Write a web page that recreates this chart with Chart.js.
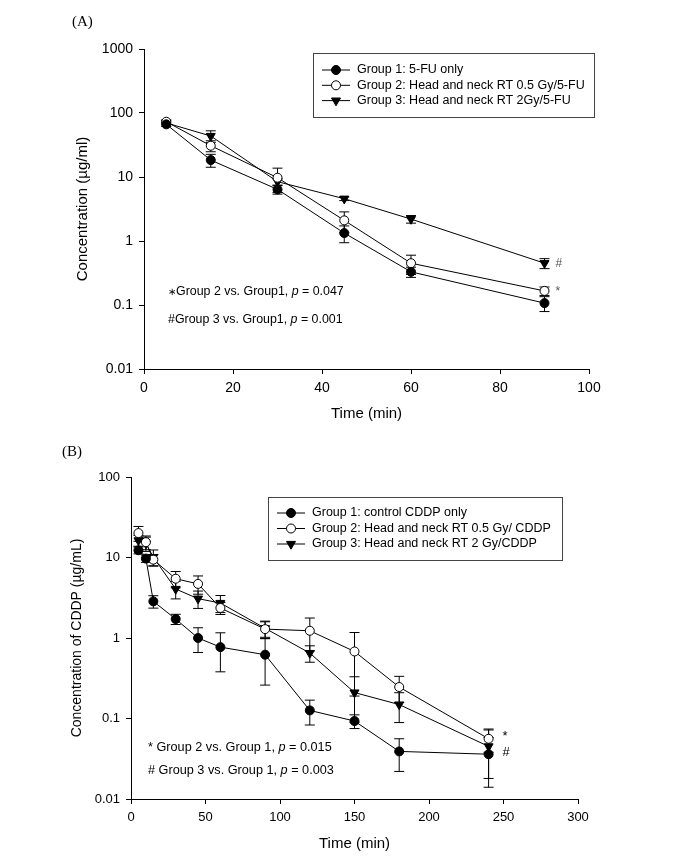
<!DOCTYPE html>
<html>
<head>
<meta charset="utf-8">
<script src="https://cdn.jsdelivr.net/npm/chart.js@4.4.0/dist/chart.umd.min.js"></script>
<style>
  html, body { margin: 0; padding: 0; background: #fff; }
  #wrap { position: relative; width: 685px; height: 856px; }
  .panel { position: absolute; left: 0; width: 685px; height: 428px; }
</style>
</head>
<body>
<div id="wrap">
  <div class="panel" style="top:0"><canvas id="chartA"></canvas></div>
  <div class="panel" style="top:428px"><canvas id="chartB"></canvas></div>
</div>
<script>
// panel A: 5-FU
const timeA = [5, 15, 30, 45, 60, 90];
const fuOnly = [66.5, 18.4, 6.4, 1.33, 0.33, 0.107];
const fuOnlySd = [5, 4.2, 1.0, 0.39, 0.06, 0.028];
const fuRt05 = [73, 30.8, 9.75, 2.1, 0.45, 0.166];
const fuRt05Sd = [5, 6, 4, 0.75, 0.15, 0.025];
const fuRt2 = [70, 43.7, 8.45, 4.58, 2.2, 0.45];
const fuRt2Sd = [5, 9, 1.0, 0.3, 0.3, 0.08];
const labelsA = ['Group 1: 5-FU only', 'Group 2: Head and neck RT 0.5 Gy/5-FU', 'Group 3: Head and neck RT 2Gy/5-FU'];
const yTicksA = [0.01, 0.1, 1, 10, 100, 1000];

// panel B: CDDP
const timeB = [5, 10, 15, 30, 45, 60, 90, 120, 150, 180, 240];
const cddpOnly = [12.3, 9.7, 2.85, 1.72, 1.0, 0.77, 0.62, 0.126, 0.093, 0.039, 0.036];
const cddpOnlySd = [1.2, 1.0, 0.5, 0.25, 0.34, 0.39, 0.36, 0.043, 0.018, 0.017, 0.022];
const cddpRt05 = [20.1, 15.5, 9.4, 5.45, 4.7, 2.36, 1.29, 1.23, 0.68, 0.246, 0.056];
const cddpRt05Sd = [4.2, 3.0, 1.5, 1.25, 1.2, 0.4, 0.3, 0.54, 0.49, 0.088, 0.018];
const cddpRt2 = [16.3, 14.9, 10.1, 4.06, 3.08, 2.72, 1.32, 0.65, 0.21, 0.149, 0.045];
const cddpRt2Sd = [2.5, 3.0, 2.3, 1.0, 0.75, 0.65, 0.3, 0.15, 0.12, 0.06, 0.027];
const labelsB = ['Group 1: control CDDP only', 'Group 2: Head and neck RT 0.5 Gy/ CDDP', 'Group 3: Head and neck RT 2 Gy/CDDP'];
const yTicksB = [0.01, 0.1, 1, 10, 100];

const SANS = "'Liberation Sans', Arial, sans-serif";
const SERIF = "'Liberation Serif', 'Times New Roman', serif";

const styles = [
  { pointStyle: 'circle', pointRadius: 4.5, pointBackgroundColor: '#000', pointRotation: 0 },
  { pointStyle: 'circle', pointRadius: 4.5, pointBackgroundColor: '#fff', pointRotation: 0 },
  { pointStyle: 'triangle', pointRadius: 5.2, pointBackgroundColor: '#000', pointRotation: 180 }
];

function makeSets(xs, series, sds, labels) {
  return series.map((vals, i) => Object.assign({
    label: labels[i],
    data: vals.map((v, j) => ({ x: xs[j], y: v })),
    sd: sds[i],
    borderColor: '#000',
    borderWidth: 1,
    pointBorderColor: '#000',
    pointBorderWidth: 1,
    fill: false,
    tension: 0
  }, styles[i]));
}

function marker(ctx, st, x, y) {
  ctx.save();
  ctx.fillStyle = st.pointBackgroundColor;
  ctx.strokeStyle = '#000';
  ctx.lineWidth = 1;
  ctx.beginPath();
  if (st.pointStyle === 'triangle') {
    const r = st.pointRadius;
    let a = Math.PI;
    for (let k = 0; k < 3; k++) {
      const px = x + Math.sin(a) * r, py = y - Math.cos(a) * r;
      if (k === 0) ctx.moveTo(px, py); else ctx.lineTo(px, py);
      a += 2 * Math.PI / 3;
    }
    ctx.closePath();
  } else {
    ctx.arc(x, y, st.pointRadius, 0, Math.PI * 2);
  }
  ctx.fill();
  ctx.stroke();
  ctx.restore();
}

function richText(ctx, parts, x, y, size) {
  let cx = x;
  parts.forEach(([t, it, sz]) => {
    ctx.font = (it ? 'italic ' : '') + (sz || size) + 'px ' + SANS;
    ctx.fillText(t, cx, y);
    cx += ctx.measureText(t).width;
  });
}

const errorBars = {
  id: 'errorBars',
  beforeDatasetsDraw(chart) {
    const ctx = chart.ctx, xs = chart.scales.x, ys = chart.scales.y;
    ctx.save();
    ctx.strokeStyle = '#000';
    ctx.lineWidth = 1;
    chart.data.datasets.forEach(ds => {
      ds.data.forEach((p, j) => {
        const sd = ds.sd[j];
        const x = xs.getPixelForValue(p.x);
        const hi = ys.getPixelForValue(p.y + sd);
        const lo = ys.getPixelForValue(Math.max(p.y - sd, ys.min));
        ctx.beginPath();
        ctx.moveTo(x, hi); ctx.lineTo(x, lo);
        ctx.moveTo(x - 5, hi); ctx.lineTo(x + 5, hi);
        ctx.moveTo(x - 5, lo); ctx.lineTo(x + 5, lo);
        ctx.stroke();
      });
    });
    ctx.restore();
  }
};

const panelText = {
  id: 'panelText',
  afterDraw(chart, args, o) {
    const ctx = chart.ctx, xs = chart.scales.x, ys = chart.scales.y;
    ctx.save();
    // panel label
    ctx.fillStyle = '#000';
    ctx.textBaseline = 'middle';
    ctx.font = '15px ' + SERIF;
    ctx.fillText(o.panel, o.panelX, o.panelY);
    // legend box
    const L = o.legend;
    ctx.fillStyle = '#fff';
    ctx.fillRect(L.x0, L.y0, L.x1 - L.x0, L.y1 - L.y0);
    ctx.strokeStyle = '#444';
    ctx.lineWidth = 1;
    ctx.strokeRect(L.x0 + 0.5, L.y0 + 0.5, L.x1 - L.x0, L.y1 - L.y0);
    chart.data.datasets.forEach((ds, i) => {
      const y = L.rowY + i * L.rowGap;
      ctx.strokeStyle = '#000';
      ctx.beginPath();
      ctx.moveTo(L.lineX0, y); ctx.lineTo(L.lineX1, y);
      ctx.stroke();
      marker(ctx, styles[i], (L.lineX0 + L.lineX1) / 2, y);
      ctx.fillStyle = '#000';
      ctx.font = L.size + 'px ' + SANS;
      ctx.textBaseline = 'middle';
      ctx.fillText(ds.label, L.textX, y);
    });
    // statistics notes
    ctx.fillStyle = '#000';
    o.notes.forEach(n => richText(ctx, n.parts, n.x, n.y, n.size));
    // significance marks at the last time point
    o.marks.forEach(m => {
      const ds = chart.data.datasets[m.ds];
      const p = ds.data[ds.data.length - 1];
      ctx.fillStyle = m.color;
      ctx.font = m.size + 'px ' + SANS;
      ctx.fillText(m.text, xs.getPixelForValue(p.x) + m.dx, ys.getPixelForValue(p.y) + m.dy);
    });
    ctx.restore();
  }
};

function makeChart(id, cfg) {
  return new Chart(document.getElementById(id), {
    type: 'line',
    data: { datasets: makeSets(cfg.xs, cfg.series, cfg.sds, cfg.labels) },
    plugins: [errorBars, panelText],
    options: {
      responsive: true,
      maintainAspectRatio: false,
      animation: false,
      events: [],
      layout: { padding: { top: 49, right: cfg.padRight, bottom: 0, left: 0 } },
      scales: {
        x: {
          type: 'linear',
          min: 0,
          max: cfg.xMax,
          afterFit: s => { s.height = cfg.xHeight; },
          border: { display: true, color: '#000', width: 1 },
          grid: { drawOnChartArea: false, drawTicks: true, tickLength: 5, color: '#000' },
          ticks: { stepSize: cfg.xStep, color: '#000', padding: cfg.xTickPad, font: { family: SANS, size: cfg.tickSize } },
          title: { display: true, text: 'Time (min)', color: '#000', padding: { top: 0, bottom: cfg.xTitlePad }, font: { family: SANS, size: 15 } }
        },
        y: {
          type: 'logarithmic',
          min: cfg.yTicks[0],
          max: cfg.yTicks[cfg.yTicks.length - 1],
          afterFit: s => { s.width = cfg.yWidth; },
          afterBuildTicks: s => { s.ticks = cfg.yTicks.map(v => ({ value: v })); },
          border: { display: true, color: '#000', width: 1 },
          grid: { drawOnChartArea: false, drawTicks: true, tickLength: 5, color: '#000' },
          ticks: { color: '#000', padding: 6, font: { family: SANS, size: cfg.tickSize }, callback: v => String(v) },
          title: { display: true, text: cfg.yTitle, color: '#000', padding: { top: cfg.yTitlePad, bottom: 0 }, font: { family: SANS, size: cfg.yTitleSize } }
        }
      },
      plugins: {
        legend: { display: false },
        tooltip: { enabled: false },
        panelText: cfg.text
      }
    }
  });
}

makeChart('chartA', {
  xs: timeA,
  series: [fuOnly, fuRt05, fuRt2],
  sds: [fuOnlySd, fuRt05Sd, fuRt2Sd],
  labels: labelsA,
  yTicks: yTicksA,
  xMax: 100, xStep: 20,
  padRight: 96, xHeight: 59, yWidth: 144,
  tickSize: 14, xTickPad: 5.6, xTitlePad: 5,
  yTitle: 'Concentration (\u00b5g/ml)', yTitleSize: 15, yTitlePad: 74,
  text: {
    panel: '(A)', panelX: 72, panelY: 22,
    legend: { x0: 313, y0: 53, x1: 594, y1: 117, rowY: 70, rowGap: 15.3, lineX0: 322, lineX1: 350, textX: 357, size: 12.5 },
    notes: [
      { x: 168, y: 292, size: 12.4, parts: [['\u2217', false, 10], ['Group 2 vs. Group1, ', false], ['p', true], [' = 0.047', false]] },
      { x: 168, y: 320, size: 12.4, parts: [['#Group 3 vs. Group1, ', false], ['p', true], [' = 0.001', false]] }
    ],
    marks: [
      { ds: 2, text: '#', dx: 11, dy: 0, color: '#555', size: 12 },
      { ds: 1, text: '*', dx: 11, dy: 1, color: '#555', size: 12 }
    ]
  }
});

makeChart('chartB', {
  xs: timeB,
  series: [cddpOnly, cddpRt05, cddpRt2],
  sds: [cddpOnlySd, cddpRt05Sd, cddpRt2Sd],
  labels: labelsB,
  yTicks: yTicksB,
  xMax: 300, xStep: 50,
  padRight: 107, xHeight: 57, yWidth: 131,
  tickSize: 13, xTickPad: 5.2, xTitlePad: 3,
  yTitle: 'Concentration of CDDP (\u00b5g/mL)', yTitleSize: 14, yTitlePad: 68.6,
  text: {
    panel: '(B)', panelX: 62, panelY: 24,
    legend: { x0: 268, y0: 69, x1: 562, y1: 132, rowY: 85, rowGap: 15.5, lineX0: 277, lineX1: 305, textX: 312, size: 12.5 },
    notes: [
      { x: 148, y: 319, size: 12.7, parts: [['* Group 2 vs. Group 1, ', false], ['p', true], [' = 0.015', false]] },
      { x: 148, y: 342, size: 12.7, parts: [['# Group 3 vs. Group 1, ', false], ['p', true], [' = 0.003', false]] }
    ],
    marks: [
      { ds: 1, text: '*', dx: 14, dy: -2, color: '#000', size: 13 },
      { ds: 2, text: '#', dx: 14, dy: 6, color: '#000', size: 13 }
    ]
  }
});
</script>
</body>
</html>
